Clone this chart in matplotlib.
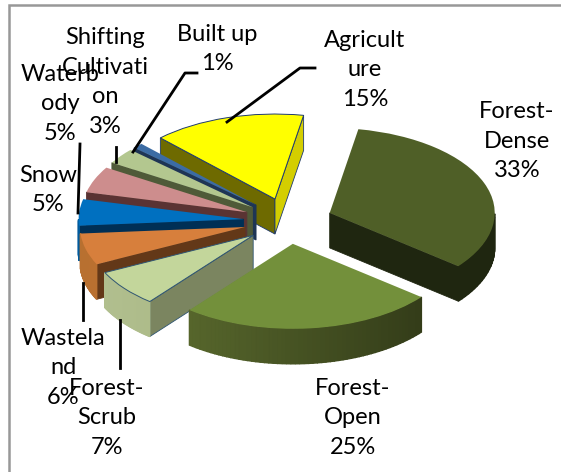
import numpy as np
import matplotlib
matplotlib.use("Agg")
import matplotlib.pyplot as plt
from matplotlib.patches import Polygon
from matplotlib.lines import Line2D
from matplotlib.colors import to_rgb

plt.rcParams['font.family'] = ['Lato', 'DejaVu Sans']

# ---- data ----
categories = ["Forest-Dense", "Forest-Open", "Forest-Scrub", "Wasteland", "Snow",
              "Waterbody", "Shifting Cultivation", "Built up", "Agriculture"]
values = [33, 25, 7, 6, 5, 5, 3, 1, 15]
wrapped_names = ["Forest-\nDense", "Forest-\nOpen", "Forest-\nScrub", "Wastela\nnd", "Snow",
                 "Waterb\nody", "Shifting\nCultivati\non", "Built up", "Agricult\nure"]

# ---- styles ----
top_colors = ["#4f5f27", "#73903b", "#c3d69b", "#d77f3c", "#0070c0",
              "#cd8d8d", "#b3c78f", "#3c6ca4", "#ffff00"]
rim_left = ["#1f2610", "#5f7030", "#b2c090", "#b87030", "#005a9c",
            "#a87474", "#93a576", "#2f5685", "#d4ce00"]
rim_right = ["#1f2610", "#2e3616", "#9aa870", "#c97a38", "#005a9c",
             "#a87474", "#93a576", "#2f5685", "#d4ce00"]
start_face = ["#1f2610", "#1f2610", "#7b8560", "#633818", "#002f55",
              "#5a3333", "#4f5a38", "#1e3555", "#6e6a00"]
end_face = ["#1f2610", "#1f2610", "#7b8560", "#633818", "#002f55",
            "#5a3333", "#4f5a38", "#1e3555", "#d4ce00"]
edge_colors = ["none", "none", "#2f5572", "none", "none", "none", "none", "none", "#1f3a70"]
draw_order = [8, 7, 6, 5, 4, 3, 0, 2, 1]

W, H = 561, 472
CX, CY, RX, RY, DEPTH_PX = 288.0, 221.0, 165.0, 85.0, 35.0
EXPLODE = 0.27
DEPTH = DEPTH_PX / RY

fig = plt.figure(figsize=(W / 100, H / 100), dpi=100, facecolor="white")
ax = fig.add_axes([0, 0, 1, 1])
wedges, _ = ax.pie(values, explode=[EXPLODE] * len(values), startangle=80, counterclock=False,
                   colors=top_colors, radius=1.0, frame=True)
ax.set_aspect("auto")
ax.set_xlim((0 - CX) / RX, (W - CX) / RX)
ax.set_ylim((CY - H) / RY, CY / RY)
ax.axis("off")


def on_circle(center, theta):
    t = np.radians(theta)
    return center[0] + np.cos(t), center[1] + np.sin(t)


for idx in draw_order:
    w = wedges[idx]
    c = w.center
    a_deg, b_deg = w.theta2, w.theta1
    base_z = 2 * draw_order.index(idx) + 1
    corner_a = on_circle(c, a_deg)
    corner_b = on_circle(c, b_deg)

    # cut faces, visible when their normal points toward the viewer
    for corner, normal, col in ((corner_a, a_deg + 90, start_face[idx]),
                                (corner_b, b_deg - 90, end_face[idx])):
        if np.sin(np.radians(normal)) < 0:
            ax.add_patch(Polygon([c, corner, (corner[0], corner[1] - DEPTH), (c[0], c[1] - DEPTH)],
                                 closed=True, facecolor=col,
                                 edgecolor=edge_colors[idx] if edge_colors[idx] != "none" else col,
                                 linewidth=0.6, zorder=base_z))

    # curved outer rim on the near half of the ellipse
    thetas = np.linspace(b_deg, a_deg, 60)
    thetas = thetas[np.sin(np.radians(thetas)) <= 0.0]
    if len(thetas) > 1:
        cl, cr = np.array(to_rgb(rim_left[idx])), np.array(to_rgb(rim_right[idx]))
        # solid underlay so neighbouring gradient steps leave no seams
        upper = [on_circle(c, t) for t in thetas]
        lower = [(x, y - DEPTH) for x, y in upper][::-1]
        ax.add_patch(Polygon(upper + lower, closed=True, facecolor=(cl + cr) / 2,
                             edgecolor="none", zorder=base_z))
        for t0, t1 in zip(thetas[:-1], thetas[1:]):
            p0, p1 = on_circle(c, t0), on_circle(c, t1)
            f = (np.cos(np.radians(t0)) + 1) / 2
            col = cl * (1 - f) + cr * f
            ax.add_patch(Polygon([p0, p1, (p1[0], p1[1] - DEPTH), (p0[0], p0[1] - DEPTH)],
                                 closed=True, facecolor=col, edgecolor=col, linewidth=1.0,
                                 zorder=base_z))
    w.set_zorder(base_z + 1)
    w.set_edgecolor(edge_colors[idx])
    w.set_linewidth(0.7)


# ---- annotations in pixel coordinates ----
def px(x, y):
    return x / W, 1 - y / H


label_centres = [(517, 141), (353, 418), (107, 418), (63, 368), (48, 190),
                 (60, 104), (105, 82), (217, 49), (365, 70)]
for name, v, (x, y) in zip(wrapped_names, values, label_centres):
    fx, fy = px(x, y)
    fig.text(fx, fy, f"{name}\n{v}%", ha="center", va="center", fontsize=17,
             color="black", linespacing=1.5, zorder=20)

leaders = [[(197, 73), (185, 73), (133, 152)],
           [(315, 68), (300, 68), (227, 122)],
           [(116, 147), (116, 162)],
           [(80, 144), (78, 213)],
           [(83, 283), (83, 320)],
           [(120, 320), (120, 368)]]
for pts in leaders:
    xs, ys = zip(*[px(*p) for p in pts])
    fig.add_artist(Line2D(xs, ys, color="black", lw=2.0, zorder=15))

# frame only on the top and left sides
xs, ys = zip(*[px(*p) for p in [(9, 472), (9, 5), (561, 5)]])
fig.add_artist(Line2D(xs, ys, color="#989898", lw=1.8, zorder=14, solid_joinstyle="miter"))

fig.savefig("out.png", dpi=100)
